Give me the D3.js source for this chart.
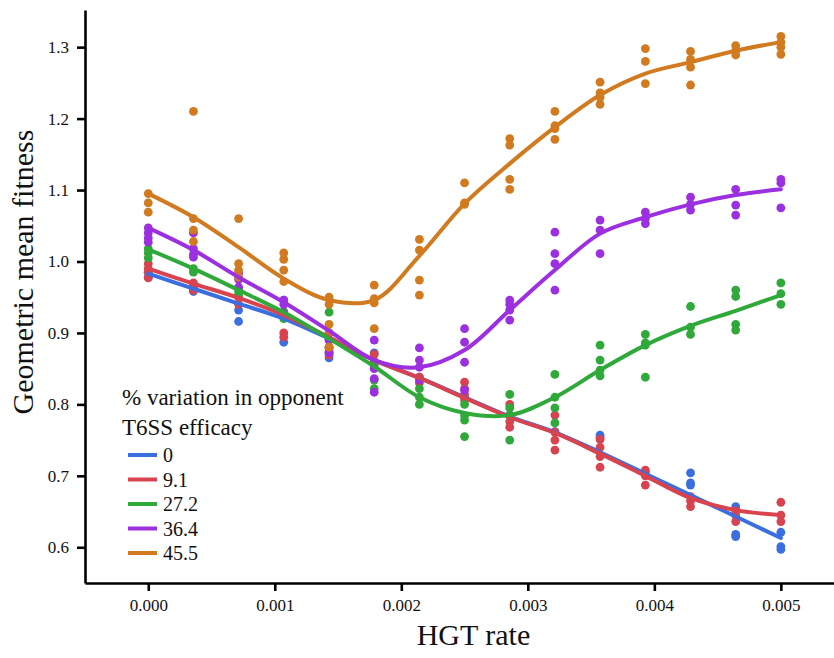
<!DOCTYPE html>
<html>
<head>
<meta charset="utf-8">
<script src="https://cdn.jsdelivr.net/npm/d3@7"></script>
<style>
  body { margin: 0; background: #fff; }
  #chart { width: 834px; height: 658px; }
  #chart text { font-family: "Liberation Serif", "Times New Roman", serif; fill: #111; }
</style>
</head>
<body>
<div id="chart"></div>
<script>
// HGT rates that were simulated
const hgtRate = [0, 0.000357, 0.000714, 0.001071, 0.001429, 0.001786, 0.002143, 0.0025,
  0.002857, 0.003214, 0.003571, 0.003929, 0.004286, 0.004643, 0.005];

// % variation in opponent T6SS efficacy
const groups = ['0', '9.1', '27.2', '36.4', '45.5'];
const groupColor = ['#3b6fdf', '#d8434f', '#2fa93a', '#9c30e0', '#d27a1f'];

// replicate runs (geometric mean fitness) at each hgt rate
const obs0 = [[0.985, 0.978], [0.965, 0.958], [0.932, 0.916], [0.946, 0.887], [0.872, 0.865],
  [0.872, 0.86], [0.838], [0.81], [0.785], [0.762], [0.757, 0.754], [0.705],
  [0.704, 0.69, 0.687], [0.657, 0.618, 0.615], [0.621, 0.601, 0.597]];
const obs9 = [[0.997, 0.99, 0.985, 0.977], [0.97, 0.965, 0.96], [0.95, 0.94], [0.9, 0.894],
  [0.879, 0.874, 0.869], [0.87, 0.86], [0.838, 0.83], [0.831, 0.822, 0.814, 0.806],
  [0.8, 0.785, 0.776, 0.768], [0.785, 0.761, 0.75, 0.736], [0.751, 0.74, 0.727, 0.712],
  [0.708, 0.7, 0.687], [0.671, 0.665, 0.657], [0.651, 0.645, 0.636], [0.663, 0.645, 0.636]];
const obs27 = [[1.018, 1.012, 1.005], [0.99, 0.985], [0.96, 0.955], [0.93, 0.92], [0.929, 0.89],
  [0.855, 0.834, 0.822], [0.822, 0.81, 0.8], [0.8, 0.784, 0.778, 0.755], [0.814, 0.795, 0.785, 0.75],
  [0.842, 0.81, 0.795, 0.774], [0.883, 0.862, 0.848, 0.84], [0.898, 0.886, 0.883, 0.838],
  [0.937, 0.908, 0.898], [0.96, 0.951, 0.912, 0.904], [0.97, 0.955, 0.94]];
const obs36 = [[1.047, 1.04, 1.033, 1.027], [1.04, 1.018, 1.01, 1.006], [0.984, 0.975, 0.964],
  [0.946, 0.94, 0.927], [0.9, 0.89, 0.88, 0.872], [0.89, 0.85, 0.836, 0.817], [0.879, 0.862, 0.852, 0.834],
  [0.906, 0.887, 0.859, 0.82], [0.946, 0.94, 0.932, 0.918], [1.041, 1.011, 0.997, 0.96],
  [1.058, 1.044, 1.011], [1.069, 1.06, 1.053], [1.09, 1.08, 1.072], [1.101, 1.079, 1.065],
  [1.115, 1.11, 1.075]];
const obs45 = [[1.095, 1.082, 1.069], [1.21, 1.06, 1.044, 1.028], [1.06, 0.997, 0.988, 0.978],
  [1.012, 1.003, 0.988, 0.972], [0.95, 0.94, 0.912, 0.9, 0.88], [0.967, 0.948, 0.942, 0.906],
  [1.031, 1.016, 0.974, 0.953], [1.11, 1.082, 1.08], [1.172, 1.163, 1.115, 1.101],
  [1.21, 1.19, 1.186, 1.171], [1.251, 1.236, 1.23, 1.22], [1.298, 1.28, 1.249],
  [1.294, 1.283, 1.272, 1.247], [1.302, 1.295, 1.289], [1.315, 1.307, 1.3, 1.29]];

// smoothed fit at each hgt rate
const fit0 = [0.983, 0.962, 0.941, 0.92, 0.892, 0.862, 0.837, 0.81, 0.783, 0.761, 0.733, 0.703, 0.673, 0.643, 0.613];
const fit9 = [0.99, 0.969, 0.949, 0.925, 0.894, 0.862, 0.837, 0.809, 0.782, 0.76, 0.731, 0.7, 0.669, 0.652, 0.645];
const fit27 = [1.017, 0.99, 0.96, 0.929, 0.892, 0.853, 0.81, 0.788, 0.785, 0.81, 0.848, 0.883, 0.91, 0.931, 0.953];
const fit36 = [1.047, 1.016, 0.978, 0.943, 0.903, 0.862, 0.852, 0.876, 0.932, 0.988, 1.039, 1.062, 1.08, 1.093, 1.101];
const fit45 = [1.095, 1.062, 1.02, 0.976, 0.946, 0.946, 1.008, 1.081, 1.137, 1.188, 1.233, 1.263, 1.279, 1.295, 1.307];

const xTicks = [0, 0.001, 0.002, 0.003, 0.004, 0.005];
const yTicks = [0.6, 0.7, 0.8, 0.9, 1.0, 1.1, 1.2, 1.3];

class FitnessChart {
  constructor(el) {
    this.el = el;
    this.obs = [obs0, obs9, obs27, obs36, obs45];
    this.fits = [fit0, fit9, fit27, fit36, fit45];
    this.initChart();
    this.updateChart();
  }

  initChart() {
    const that = this;
    d3.select(`#${this.el} svg`).remove();

    const width = document.getElementById(that.el).getBoundingClientRect().width;
    const height = document.getElementById(that.el).getBoundingClientRect().height;

    const margin = { left: 85, right: 0, top: 10, bottom: 75 };
    that.innerWidth = width - margin.left - margin.right;
    that.innerHeight = height - margin.top - margin.bottom;

    that.svg = d3.select(`#${this.el}`).append('svg')
      .attr('width', width)
      .attr('height', height);

    that.mainGroup = that.svg.append('g')
      .attr('transform', `translate(${margin.left},${margin.top})`);

    that.xScale = d3.scaleLinear().domain([-0.0005, 0.00542]).range([0, that.innerWidth]);
    that.yScale = d3.scaleLinear().domain([0.55, 1.352]).range([that.innerHeight, 0]);

    that.xAxis = d3.axisBottom(that.xScale).tickValues(xTicks)
      .tickFormat(d3.format('.3f')).tickSize(8).tickSizeOuter(0).tickPadding(8);
    that.yAxis = d3.axisLeft(that.yScale).tickValues(yTicks)
      .tickFormat(d3.format('.1f')).tickSize(8).tickSizeOuter(0).tickPadding(8);

    that.mainGroup.append('g').attr('class', 'pointGroup');
    that.mainGroup.append('g').attr('class', 'lineGroup');

    that.mainGroup.append('g').attr('class', 'x-axis axis')
      .attr('transform', `translate(0,${that.innerHeight})`);
    that.mainGroup.append('g').attr('class', 'y-axis axis');

    // axis titles
    that.mainGroup.append('text')
      .attr('x', that.xScale(0.00257))
      .attr('y', that.innerHeight + 62)
      .attr('text-anchor', 'middle')
      .attr('font-size', '30px')
      .text('HGT rate');

    that.svg.append('text')
      .attr('transform', `translate(33,272) rotate(-90)`)
      .attr('text-anchor', 'middle')
      .attr('font-size', '30px')
      .text('Geometric mean fitness');

    // legend
    const legend = that.mainGroup.append('g').attr('class', 'legend')
      .attr('transform', `translate(37,${that.innerHeight - 178})`);
    legend.append('text').attr('x', 0).attr('y', 0)
      .attr('font-size', '23px').text('% variation in opponent');
    legend.append('text').attr('x', 0).attr('y', 30)
      .attr('font-size', '23px').text('T6SS efficacy');

    const items = legend.selectAll('.item').data(groups)
      .join('g')
      .attr('class', 'item')
      .attr('transform', (d, i) => `translate(6,${50 + i * 24.5})`);
    items.append('line')
      .attr('x1', 0).attr('x2', 29)
      .attr('stroke', (d, i) => groupColor[i])
      .attr('stroke-width', 4);
    items.append('text')
      .attr('x', 35).attr('y', 7)
      .attr('font-size', '20px')
      .text(d => d);
  }

  updateChart() {
    const that = this;

    const pts = [];
    that.obs.forEach((runs, g) => {
      runs.forEach((vals, i) => {
        vals.forEach(v => pts.push({ g, x: hgtRate[i], y: v }));
      });
    });

    d3.select(`#${that.el} .pointGroup`)
      .selectAll('circle')
      .data(pts)
      .join('circle')
      .attr('cx', d => that.xScale(d.x))
      .attr('cy', d => that.yScale(d.y))
      .attr('r', 4.4)
      .attr('fill', d => groupColor[d.g]);

    const line = d3.line()
      .x((d, i) => that.xScale(hgtRate[i]))
      .y(d => that.yScale(d))
      .curve(d3.curveCatmullRom.alpha(0.5));

    d3.select(`#${that.el} .lineGroup`)
      .selectAll('path')
      .data(that.fits)
      .join('path')
      .attr('d', d => line(d))
      .attr('fill', 'none')
      .attr('stroke', (d, i) => groupColor[i])
      .attr('stroke-width', 4)
      .attr('stroke-linecap', 'round');

    d3.select(`#${that.el} .x-axis`).call(that.xAxis);
    d3.select(`#${that.el} .y-axis`).call(that.yAxis);

    d3.selectAll(`#${that.el} .axis .domain`).attr('stroke', '#000').attr('stroke-width', 2.6);
    d3.selectAll(`#${that.el} .axis .tick line`).attr('stroke', '#000').attr('stroke-width', 2.6);
    d3.selectAll(`#${that.el} .axis .tick text`)
      .attr('font-size', '17px')
      .attr('fill', '#222');
  }
}

new FitnessChart('chart');
</script>
</body>
</html>
